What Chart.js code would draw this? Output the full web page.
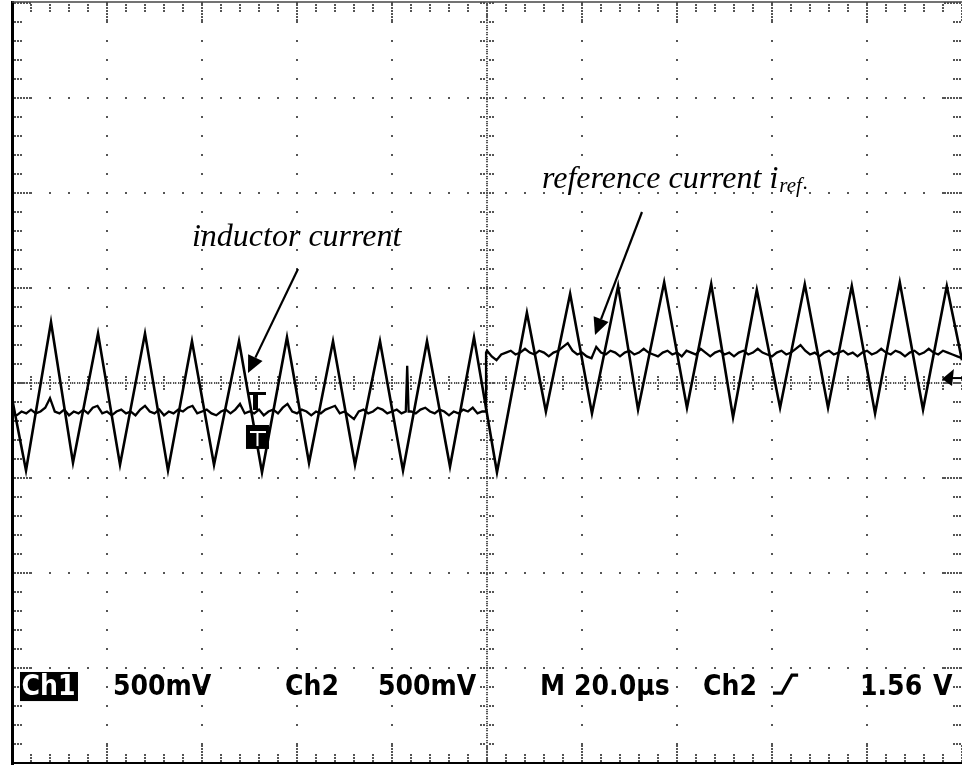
<!DOCTYPE html>
<html><head><meta charset="utf-8">
<script src="https://cdn.jsdelivr.net/npm/chart.js@4"></script>
<style>html,body{margin:0;padding:0;background:#fff;}#wrap{width:962px;height:765px;position:relative;}</style>
</head><body><div id="wrap"><canvas id="c"></canvas></div>
<script>
// Horizontal: time in µs (M 20.0 µs/div). Vertical: volts (500 mV/div).
const timeRange = [0, 200];
const voltRange = [-2, 2];
const timeMajorStep = 20, timeMinorStep = 4;
const voltMajorStep = 0.5, voltMinorStep = 0.1;

// inductor current (triangle) vertices [µs, V]
const inductorVertices = [
  [0,-0.08],[2.95,-0.46],[8.21,0.32],[12.84,-0.42],[18.11,0.26],[22.74,-0.43],[28.0,0.26],
  [32.84,-0.46],[37.89,0.22],[42.53,-0.43],[47.79,0.22],[52.63,-0.47],[57.89,0.24],[62.53,-0.42],
  [67.58,0.22],[72.21,-0.43],[77.47,0.22],[82.32,-0.46],[87.37,0.22],[92.21,-0.44],[97.26,0.24],
  [102.1,-0.47],[108.4,0.37],[112.4,-0.15],[117.5,0.47],[122.1,-0.16],[127.6,0.51],[131.8,-0.14],
  [137.3,0.53],[142.1,-0.13],[147.2,0.52],[151.8,-0.18],[156.8,0.49],[161.7,-0.13],[166.9,0.52],
  [171.8,-0.13],[176.8,0.51],[181.7,-0.16],[186.9,0.53],[191.8,-0.14],[196.8,0.51],[200,0.12]
];

// reference current i_ref trace [µs, V]
const refTrace = [
  [0,-0.16],[1,-0.17],[2,-0.15],[3,-0.16],[4,-0.14],[5,-0.16],[6,-0.15],[7,-0.13],[8,-0.08],[9,-0.15],
  [10,-0.16],[11,-0.14],[12,-0.17],[13,-0.15],[14,-0.16],[15,-0.14],[16,-0.16],[17,-0.13],[18,-0.12],[19,-0.16],
  [20,-0.15],[21,-0.17],[22,-0.15],[23,-0.14],[24,-0.16],[25,-0.15],[26,-0.17],[27,-0.14],[28,-0.12],[29,-0.15],
  [30,-0.16],[31,-0.14],[32,-0.17],[33,-0.15],[34,-0.16],[35,-0.14],[36,-0.15],[37,-0.13],[38,-0.12],[39,-0.16],
  [40,-0.15],[41,-0.14],[42,-0.16],[43,-0.17],[44,-0.15],[45,-0.14],[46,-0.16],[47,-0.14],[48,-0.11],[49,-0.16],
  [50,-0.15],[51,-0.16],[52,-0.14],[53,-0.17],[54,-0.15],[55,-0.14],[56,-0.16],[57,-0.13],[58,-0.11],[59,-0.15],
  [60,-0.16],[61,-0.14],[62,-0.15],[63,-0.17],[64,-0.15],[65,-0.16],[66,-0.14],[67,-0.13],[68,-0.12],[69,-0.16],
  [70,-0.15],[71,-0.17],[72,-0.19],[73,-0.15],[74,-0.14],[75,-0.16],[76,-0.15],[77,-0.13],[78,-0.14],[79,-0.16],
  [80,-0.15],[81,-0.14],[82,-0.16],[82.9,-0.15],[83.2,0.09],[83.5,-0.15],[84,-0.15],[85,-0.16],[86,-0.14],[87,-0.13],
  [88,-0.15],[89,-0.16],[90,-0.14],[91,-0.15],[92,-0.17],[93,-0.15],[94,-0.16],[95,-0.14],[96,-0.15],[97,-0.13],
  [98,-0.16],[99,-0.15],[99.8,-0.15],[99.8,0.16],
  [100,0.17],[101,0.14],[102,0.12],[103,0.15],[104,0.16],[105,0.17],[106,0.15],[107,0.16],[108,0.18],[109,0.16],
  [110,0.15],[111,0.17],[112,0.16],[113,0.14],[114,0.16],[115,0.17],[116,0.19],[117,0.21],[118,0.17],[119,0.15],
  [120,0.16],[121,0.14],[122,0.13],[123,0.19],[124,0.16],[125,0.15],[126,0.17],[127,0.16],[128,0.14],[129,0.16],
  [130,0.17],[131,0.15],[132,0.16],[133,0.18],[134,0.16],[135,0.15],[136,0.14],[137,0.16],[138,0.17],[139,0.15],
  [140,0.16],[141,0.14],[142,0.17],[143,0.16],[144,0.15],[145,0.18],[146,0.16],[147,0.14],[148,0.16],[149,0.17],
  [150,0.15],[151,0.16],[152,0.14],[153,0.16],[154,0.17],[155,0.15],[156,0.16],[157,0.18],[158,0.16],[159,0.15],
  [160,0.14],[161,0.16],[162,0.17],[163,0.15],[164,0.16],[165,0.18],[166,0.20],[167,0.17],[168,0.15],[169,0.16],
  [170,0.14],[171,0.16],[172,0.17],[173,0.15],[174,0.16],[175,0.17],[176,0.15],[177,0.16],[178,0.14],[179,0.16],
  [180,0.17],[181,0.15],[182,0.16],[183,0.18],[184,0.16],[185,0.15],[186,0.17],[187,0.16],[188,0.14],[189,0.16],
  [190,0.17],[191,0.15],[192,0.16],[193,0.18],[194,0.16],[195,0.15],[196,0.17],[197,0.16],[198,0.15],[199,0.14],
  [200,0.13]
];

// on-screen texts
const labelInductor = 'inductor current';
const labelReference = 'reference current i';
const labelReferenceSub = 'ref';
const statusTexts = [
  {text:'500mV', t:21.26}, {text:'Ch2', t:57.47}, {text:'500mV', t:77.05},
  {text:'M', t:111.16}, {text:'20.0µs', t:118.32}, {text:'Ch2', t:145.47},
  {text:'1.56', t:178.53}, {text:'V', t:193.89}
];
const statusCh1 = 'Ch1';

const toXY = arr => arr.map(p => ({x:p[0], y:p[1]}));

const graticule = {
  id:'graticule',
  beforeDatasetsDraw(chart){
    const {ctx, chartArea:a, scales:{x:xs, y:ys}} = chart;
    const X = v => xs.getPixelForValue(v), Y = v => ys.getPixelForValue(v);
    const nX = Math.round((timeRange[1]-timeRange[0])/timeMinorStep);
    const nY = Math.round((voltRange[1]-voltRange[0])/voltMinorStep);
    const perX = Math.round(timeMajorStep/timeMinorStep), perY = Math.round(voltMajorStep/voltMinorStep);
    const midX = nX/2, midY = nY/2;
    ctx.save();
    ctx.fillStyle = '#555';
    const dot = (px,py) => ctx.fillRect(Math.round(px)-1, Math.round(py)-1, 2, 2);
    for (let i=perX; i<nX; i+=perX){
      if (i===midX) continue;
      const px = X(timeRange[0]+i*timeMinorStep);
      for (let j=0;j<=nY;j++) dot(px, Y(voltRange[0]+j*voltMinorStep));
    }
    for (let j=perY; j<nY; j+=perY){
      if (j===midY) continue;
      const py = Y(voltRange[0]+j*voltMinorStep);
      for (let i=0;i<=nX;i++) dot(X(timeRange[0]+i*timeMinorStep), py);
    }
    const cx = X(timeRange[0]+midX*timeMinorStep), cy = Y(voltRange[0]+midY*voltMinorStep);
    for (let px=a.left; px<=a.right; px+=2.4) ctx.fillRect(Math.round(px), Math.round(cy)-1, 1.3, 2);
    for (let py=a.top; py<=a.bottom; py+=2.4) ctx.fillRect(Math.round(cx)-1, Math.round(py), 2, 1.3);
    const offs = [-6,-3,3,6];
    for (let i=0;i<=nX;i++){ const px = X(timeRange[0]+i*timeMinorStep); offs.forEach(o=>dot(px, cy+o)); }
    for (let j=0;j<=nY;j++){ const py = Y(voltRange[0]+j*voltMinorStep); offs.forEach(o=>dot(cx+o, py)); }
    for (let i=0;i<=nX;i++){
      const px = X(timeRange[0]+i*timeMinorStep);
      const n = (i%perX===0) ? 6 : 3;
      for (let k=0;k<n;k++){ dot(px, a.top+2+k*3); dot(px, a.bottom-2-k*3); }
    }
    for (let j=0;j<=nY;j++){
      const py = Y(voltRange[0]+j*voltMinorStep);
      const n = (j%perY===0) ? 6 : 3;
      for (let k=0;k<n;k++){ dot(a.left+3+k*3, py); dot(a.right-2-k*3, py); }
    }
    ctx.strokeStyle = '#000';
    ctx.lineWidth = 3; ctx.beginPath(); ctx.moveTo(a.left+0.5, a.top-2); ctx.lineTo(a.left+0.5, a.bottom+2); ctx.stroke();
    ctx.lineWidth = 2; ctx.beginPath(); ctx.moveTo(a.left, a.bottom); ctx.lineTo(a.right, a.bottom); ctx.stroke();
    ctx.strokeStyle = '#444'; ctx.lineWidth = 1.5; ctx.beginPath(); ctx.moveTo(a.left, a.top-1); ctx.lineTo(a.right, a.top-1); ctx.stroke();
    ctx.restore();
  }
};

const overlays = {
  id:'overlays',
  afterDatasetsDraw(chart){
    const {ctx, scales:{x:xs, y:ys}} = chart;
    const X = v => xs.getPixelForValue(v), Y = v => ys.getPixelForValue(v);
    ctx.save();
    ctx.fillStyle = '#000'; ctx.strokeStyle = '#000';
    const arrow = (t1,v1,t2,v2) => {
      const x1=X(t1), y1=Y(v1), x2=X(t2), y2=Y(v2);
      const ang = Math.atan2(y2-y1, x2-x1), L=17, W=8;
      const bx = x2-L*Math.cos(ang), by = y2-L*Math.sin(ang);
      ctx.lineWidth = 2.2; ctx.beginPath(); ctx.moveTo(x1,y1); ctx.lineTo(bx,by); ctx.stroke();
      ctx.beginPath(); ctx.moveTo(x2,y2);
      ctx.lineTo(bx+W*Math.sin(ang), by-W*Math.cos(ang));
      ctx.lineTo(bx-W*Math.sin(ang), by+W*Math.cos(ang));
      ctx.closePath(); ctx.fill();
    };
    arrow(60.21, 0.60, 49.68, 0.053);
    arrow(132.63, 0.90, 122.74, 0.253);
    ctx.textBaseline = 'alphabetic'; ctx.textAlign = 'left';
    ctx.font = 'italic 32px "Liberation Serif", "Times New Roman", serif';
    ctx.fillText(labelInductor, X(37.89), Y(0.721));
    const rx = X(111.58), ry = Y(1.026);
    ctx.fillText(labelReference, rx, ry);
    const w = ctx.measureText(labelReference).width;
    ctx.font = 'italic 21px "Liberation Serif", "Times New Roman", serif';
    ctx.fillText(labelReferenceSub, rx+w+1, ry+4);
    const w2 = ctx.measureText(labelReferenceSub).width;
    ctx.fillText('.', rx+w+w2+2, ry+1);
    // trigger marker T
    ctx.fillRect(X(49.68), Y(-0.0526)-1, X(53.47)-X(49.68), 3);
    ctx.fillRect(X(50.74), Y(-0.0526), X(51.79)-X(50.74), Y(-0.142)-Y(-0.0526));
    ctx.fillRect(X(49.26), Y(-0.221), X(54.1)-X(49.26), Y(-0.347)-Y(-0.221));
    ctx.fillStyle = '#fff';
    ctx.fillRect(X(50.1), Y(-0.258)-1, X(53.47)-X(50.1), 2);
    ctx.fillRect(X(51.68)-1, Y(-0.258), 2, Y(-0.332)-Y(-0.258));
    ctx.fillStyle = '#000';
    ctx.beginPath(); ctx.moveTo(X(195.79), Y(0.021)); ctx.lineTo(X(198.3), Y(0.074)); ctx.lineTo(X(197.9), Y(-0.016)); ctx.closePath(); ctx.fill();
    ctx.lineWidth = 2; ctx.beginPath(); ctx.moveTo(X(197.5), Y(0.026)); ctx.lineTo(X(200), Y(0.026)); ctx.stroke();
    // status line
    const by = Y(-1.642);
    ctx.fillRect(X(1.68), Y(-1.521), X(13.89)-X(1.68), Y(-1.674)-Y(-1.521));
    ctx.font = 'bold 28px "DejaVu Sans", sans-serif';
    const sx = 0.9;
    const drawT = (txt, px) => { ctx.save(); ctx.translate(px, by); ctx.scale(sx, 1); ctx.fillText(txt, 0, 0); ctx.restore(); };
    ctx.fillStyle = '#fff';
    drawT(statusCh1, X(2.0));
    ctx.fillStyle = '#000';
    statusTexts.forEach(s => drawT(s.text, X(s.t)));
    ctx.lineWidth = 3.2; ctx.lineJoin = 'miter';
    ctx.beginPath();
    ctx.moveTo(X(160.2), Y(-1.632)); ctx.lineTo(X(162.1), Y(-1.632));
    ctx.lineTo(X(164.2), Y(-1.537)); ctx.lineTo(X(165.5), Y(-1.537));
    ctx.stroke();
    ctx.restore();
  }
};

new Chart(document.getElementById('c'), {
  type:'line',
  data:{ datasets:[
    {label:'inductor current', data:toXY(inductorVertices), borderColor:'#000', borderWidth:2.6, pointRadius:0, tension:0, fill:false},
    {label:'reference current', data:toXY(refTrace), borderColor:'#000', borderWidth:2.3, pointRadius:0, tension:0, fill:false}
  ]},
  options:{
    responsive:true, maintainAspectRatio:false, animation:false, devicePixelRatio:1,
    layout:{padding:{left:12, right:0, top:3, bottom:2}},
    plugins:{legend:{display:false}, tooltip:{enabled:false}},
    scales:{
      x:{type:'linear', min:timeRange[0], max:timeRange[1], display:false},
      y:{type:'linear', min:voltRange[0], max:voltRange[1], display:false}
    }
  },
  plugins:[graticule, overlays]
});
</script></body></html>
